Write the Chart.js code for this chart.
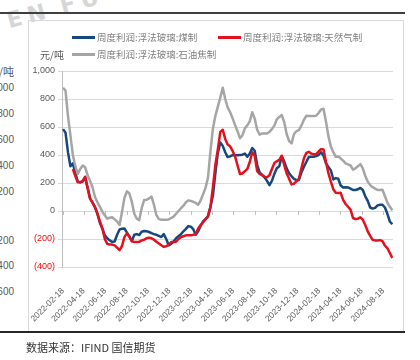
<!DOCTYPE html>
<html>
<head>
<meta charset="utf-8">
<script src="https://cdn.jsdelivr.net/npm/chart.js@4.4.1/dist/chart.umd.min.js"></script>
<style>
  body { margin: 0; background: #fff; }
  #wrap { position: relative; width: 420px; height: 360px; overflow: hidden; font-family: "Noto Sans CJK SC", sans-serif; }
  #myChart { position: absolute; left: 0; top: 0; }
  .abs { position: absolute; white-space: nowrap; }
  .left-tick { position: absolute; left: -40px; width: 54px; text-align: right; font: 10px "Liberation Sans", sans-serif; color: #595959; }
  .swatch { position: absolute; width: 23px; height: 3px; }
  .legend-text { position: absolute; font-size: 9.5px; color: #7f7f7f; line-height: 12px; }
</style>
</head>
<body>
<div id="wrap">
  <!-- watermark + frame around the chart -->
  <div class="abs" id="watermark" style="left:4px; top:9px; font: bold 22px 'DejaVu Sans', sans-serif; line-height:25px; color:#d6d6d6; letter-spacing:6px; word-spacing:-4px; transform: rotate(-15deg); transform-origin: left top;">EN FU</div>
  <div class="abs" style="left:0; top:12px; width:405px; height:1.5px; background:#404040;"></div>
  <div class="abs" style="left:28px; top:20px; width:374px; height:311px; border:1px solid #d9d9d9; border-bottom:none;"></div>
  <div class="abs" style="left:0; top:331px; width:405px; height:1.5px; background:#262626;"></div>

  <!-- bits of the previous chart that show at the left edge -->
  <div class="left-tick" style="top:63px; font-family:'Noto Sans CJK SC'; font-size:11px;">元/吨</div>
  <div class="left-tick" style="top:82px;">1000</div>
  <div class="left-tick" style="top:108px;">800</div>
  <div class="left-tick" style="top:134px;">600</div>
  <div class="left-tick" style="top:160px;">400</div>
  <div class="left-tick" style="top:186px;">200</div>
  <div class="left-tick" style="top:235px;">-200</div>
  <div class="left-tick" style="top:260px;">-400</div>
  <div class="left-tick" style="top:286px;">-600</div>

  <canvas id="myChart" width="420" height="360"></canvas>

  <!-- LEGEND -->
  <div class="swatch" style="left:72px; top:36px; background:#17487d;"></div>
  <div class="legend-text" style="left:97px; top:31px;">周度利润:浮法玻璃:煤制</div>
  <div class="swatch" style="left:218px; top:36px; background:#e3101e;"></div>
  <div class="legend-text" style="left:243px; top:31px;">周度利润:浮法玻璃:天然气制</div>
  <div class="abs" style="left:40px; top:47px; font-size:10px; color:#595959;">元/吨</div>
  <div class="swatch" style="left:72px; top:53px; background:#a5a5a5;"></div>
  <div class="legend-text" style="left:97px; top:48px;">周度利润:浮法玻璃:石油焦制</div>

  <div class="abs" style="left:26px; top:339px; font-size:11px; color:#333;">数据来源：IFIND 国信期货</div>
</div>
<script>
// SERIES NAMES
const seriesNames = ['周度利润:浮法玻璃:煤制', '周度利润:浮法玻璃:天然气制', '周度利润:浮法玻璃:石油焦制'];
// FIRST WEEK OF DATA, ONE VALUE PER WEEK AFTER THAT
const startDate = '2022-02-18';
// X AXIS TICK LABELS
const tickLabels = ['2022-02-18', '2022-04-18', '2022-06-18', '2022-08-18', '2022-10-18', '2022-12-18',
    '2023-02-18', '2023-04-18', '2023-06-18', '2023-08-18', '2023-10-18', '2023-12-18',
    '2024-02-18', '2024-04-18', '2024-06-18', '2024-08-18'];
// Y AXIS TICKS
const yTicks = [-400, -200, 0, 200, 400, 600, 800, 1000];

// COAL
const coal = [585, 560, 420, 320, 340, 270, 210, 205, 210, 240,
    165, 90, 60, 25, -20, -85, -125, -174, -195, -210,
    -220, -218, -170, -132, -126, -125, -155, -185, -215, -170,
    -165, -172, -148, -143, -145, -150, -158, -165, -170, -178,
    -186, -165, -200, -245, -235, -218, -195, -180, -165, -145,
    -128, -108, -112, -130, -170, -145, -105, -75, -58, -35,
    30, 110, 270, 415, 490, 465, 420, 385, 390, 400,
    399, 398, 400, 402, 410, 388, 410, 450, 430, 330,
    275, 258, 240, 215, 185, 215, 265, 305, 320, 390,
    355, 305, 270, 248, 230, 220, 222, 275, 315, 350,
    385, 387, 387, 392, 400, 420, 395, 340, 315, 290,
    225, 235, 230, 182, 168, 170, 168, 160, 150, 150,
    155, 165, 150, 105, 72, 25, 17, 22, 40, 45,
    45, 25, -20, -75, -95];
// NATURAL GAS (STARTS A FEW WEEKS LATER)
const gas = [null, null, null, null, 300, 250, 205, 205, 215, 245,
    165, 88, 60, 30, -20, -75, -125, -200, -235, -239,
    -240, -246, -262, -280, -250, -185, -160, -182, -215, -222,
    -222, -220, -210, -205, -195, -190, -195, -205, -220, -232,
    -245, -256, -252, -240, -222, -222, -220, -200, -186, -180,
    -174, -174, -174, -170, -165, -125, -100, -80, -58, -40,
    30, 170, 330, 440, 565, 580, 515, 475, 462, 430,
    390, 327, 265, 268, 285, 300, 350, 420, 395, 285,
    265, 256, 245, 240, 255, 300, 342, 355, 365, 395,
    330, 270, 230, 190, 195, 212, 232, 305, 375, 415,
    423, 410, 406, 406, 425, 442, 440, 350, 270, 210,
    155, 130, 128, 130, 80, 50, 30, 10, -50, -57,
    -55, -45, -62, -100, -145, -178, -205, -210, -210, -208,
    -215, -248, -265, -300, -335];
// PETROLEUM COKE
const coke = [880, 860, 680, 540, 400, 320, 265, 300, 325, 312,
    255, 215, 170, 100, 62, 30, -5, -31, -55, -48,
    -45, -60, -75, -100, -5, 95, 140, 125, 65, -20,
    -55, -65, 20, 78, 80, 90, 103, 45, -30, -58,
    -62, -62, -62, -60, -50, -40, -20, 0, 20, 38,
    62, 76, 72, 65, 58, 45, 75, 120, 165, 240,
    430, 590, 680, 745, 810, 880, 800, 740, 705, 662,
    615, 570, 520, 540, 590, 612, 640, 705, 660, 580,
    545, 554, 554, 554, 565, 585, 610, 655, 672, 686,
    635, 550, 500, 483, 550, 570, 578, 610, 650, 680,
    679, 679, 679, 680, 700, 725, 730, 640, 535, 460,
    420, 387, 390, 375, 360, 340, 333, 325, 295, 305,
    320, 335, 305, 250, 210, 185, 170, 160, 150, 150,
    152, 105, 60, 30, 5];

const DAY = 86400000;
const t0 = Date.parse(startDate);
// DAYS FROM START FOR EVERY TICK LABEL
const tickDays = tickLabels.map(d => Math.round((Date.parse(d) - t0) / DAY));

// ATTACH WEEKLY X (DAYS FROM START) TO EVERY VALUE
function toPoints(values) {
    return values.map((v, i) => ({ x: i * 7, y: v }));
}

// SMALL TICK MARKS ON THE ZERO LINE
const zeroTicks = {
    id: 'zeroTicks',
    beforeDatasetsDraw(chart) {
        const c = chart.ctx;
        const xs = chart.scales.x;
        const y0 = chart.scales.y.getPixelForValue(0);
        c.save();
        c.strokeStyle = '#bfbfbf';
        c.lineWidth = 1;
        tickDays.forEach(d => {
            const px = Math.round(xs.getPixelForValue(d)) + 0.5;
            c.beginPath();
            c.moveTo(px, y0);
            c.lineTo(px, y0 + 4);
            c.stroke();
        });
        c.restore();
    }
};

const lineStyle = { pointRadius: 0, borderWidth: 2.5, tension: 0, borderJoinStyle: 'round', fill: false, spanGaps: false };

const ctx = document.getElementById('myChart').getContext('2d');
const myChart = new Chart(ctx, {
    type: 'line',
    data: {
        datasets: [
            { ...lineStyle, label: seriesNames[0], data: toPoints(coal), borderColor: '#17487d', order: 3 },
            { ...lineStyle, label: seriesNames[1], data: toPoints(gas), borderColor: '#e3101e', order: 2 },
            { ...lineStyle, label: seriesNames[2], data: toPoints(coke), borderColor: '#a5a5a5', order: 1 }
        ]
    },
    options: {
        responsive: false,
        animation: false,
        layout: { padding: { left: 0, top: 71, right: 27, bottom: 33 } },
        plugins: { legend: { display: false }, tooltip: { enabled: false } },
        scales: {
            x: {
                type: 'linear',
                min: -3,
                max: 940,
                afterBuildTicks: s => { s.ticks = tickDays.map(v => ({ value: v })); },
                afterFit: s => { s.height = 60; },
                ticks: {
                    autoSkip: false,
                    minRotation: 45,
                    maxRotation: 45,
                    padding: 19,
                    color: '#595959',
                    font: { family: 'Liberation Sans', size: 8.5 },
                    callback: (v, i) => tickLabels[i]
                },
                grid: { display: false, drawTicks: false },
                border: { display: false }
            },
            y: {
                min: -400,
                max: 1000,
                afterBuildTicks: s => { s.ticks = yTicks.map(v => ({ value: v })); },
                afterFit: s => { s.width = 62; },
                ticks: {
                    padding: 3,
                    color: c => c.tick.value < 0 ? '#ff0000' : '#595959',
                    font: { family: 'Liberation Sans', size: 9 },
                    callback: v => v < 0 ? '(' + Math.abs(v) + ')' : v.toLocaleString('en-US')
                },
                grid: { color: '#d9d9d9', tickLength: 4 },
                border: { color: '#bfbfbf' }
            }
        }
    },
    plugins: [zeroTicks]
});
</script>
</body>
</html>
